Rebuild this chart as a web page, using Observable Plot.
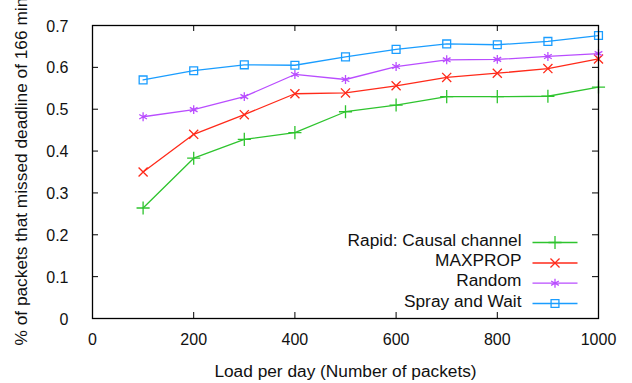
<!DOCTYPE html>
<html>
<head>
<meta charset="utf-8">
<script src="https://cdn.jsdelivr.net/npm/d3@7"></script>
<script src="https://cdn.jsdelivr.net/npm/@observablehq/plot@0.6"></script>
<style>
  html, body { margin: 0; padding: 0; background: #fff; }
  #chart svg { display: block; }
</style>
</head>
<body>
<div id="chart"></div>
<script>
// Load per day (packets) and the fraction of packets that missed the deadline
const loads = [100, 200, 300, 400, 500, 600, 700, 800, 900, 1000];
const rapid = [0.264, 0.383, 0.428, 0.444, 0.494, 0.510, 0.530, 0.530, 0.531, 0.553];
const maxprop = [0.350, 0.440, 0.487, 0.537, 0.539, 0.556, 0.576, 0.586, 0.597, 0.620];
const random = [0.482, 0.499, 0.530, 0.583, 0.571, 0.602, 0.618, 0.619, 0.626, 0.633];
const spray = [0.570, 0.592, 0.606, 0.605, 0.625, 0.643, 0.656, 0.654, 0.662, 0.676];

const seriesNames = ["Rapid: Causal channel", "MAXPROP", "Random", "Spray and Wait"];
const seriesValues = [rapid, maxprop, random, spray];
const seriesColors = ["#2ec42e", "#ff2a1a", "#b94dff", "#1a9dff"];
const seriesSymbols = ["plus", "times", "asterisk", "square2"];
const seriesRadius = [4.3, 4.2, 4.2, 5];

const xTicks = [0, 200, 400, 600, 800, 1000];
const yTicks = [0, 0.1, 0.2, 0.3, 0.4, 0.5, 0.6, 0.7];

const xTitle = "Load per day (Number of packets)";
const yTitle = "% of packets that missed deadline of 166 minutes";

const W = 632, H = 383;
const mL = 92, mR = 34, mT = 25, mB = 65;
const frameW = W - mL - mR, frameH = H - mT - mB;
const tickLen = 6;
const labelSize = 17.3;

// horizontal legend stroke, drawn as a custom dot symbol
const legendStroke = {
  draw(context) {
    context.moveTo(-22.5, 0);
    context.lineTo(22.5, 0);
  }
};
const legendRowDy = [-76, -55.5, -35.3, -15];

const seriesMarks = seriesNames.flatMap((name, i) => {
  const rows = loads.map((x, j) => ({load: x, value: seriesValues[i][j]}));
  return [
    Plot.line(rows, {x: "load", y: "value", stroke: seriesColors[i], strokeWidth: 1.3}),
    Plot.dot(rows, {x: "load", y: "value", symbol: seriesSymbols[i], r: seriesRadius[i],
      stroke: seriesColors[i], fill: "none", strokeWidth: 1.3})
  ];
});

const legendMarks = seriesNames.flatMap((name, i) => [
  Plot.text([name], {frameAnchor: "bottom-right", dx: -77, dy: legendRowDy[i] + 3,
    textAnchor: "end", fontSize: labelSize, fill: "#111"}),
  Plot.dot([name], {frameAnchor: "bottom-right", dx: -43.5, dy: legendRowDy[i],
    symbol: legendStroke, stroke: seriesColors[i], fill: "none", strokeWidth: 1.3}),
  Plot.dot([name], {frameAnchor: "bottom-right", dx: -43.5, dy: legendRowDy[i],
    symbol: seriesSymbols[i], r: seriesRadius[i], stroke: seriesColors[i], fill: "none", strokeWidth: 1.3})
]);

const chart = Plot.plot({
  width: W,
  height: H,
  marginLeft: mL,
  marginRight: mR,
  marginTop: mT,
  marginBottom: mB,
  style: {
    fontFamily: "'Liberation Sans', Arial, Helvetica, sans-serif",
    fontSize: "16px",
    color: "#111",
    background: "#fff"
  },
  x: {domain: [0, 1000]},
  y: {domain: [0, 0.7]},
  marks: [
    // tick labels
    Plot.axisX(xTicks, {anchor: "bottom", tickSize: 0, tickPadding: 15, fontSize: 16,
      tickFormat: d => String(d), label: null}),
    Plot.axisY(yTicks, {anchor: "left", tickSize: 0, tickPadding: 24, fontSize: 16, dy: 1,
      tickFormat: d => d === 0 ? "0" : d.toFixed(1), label: null}),
    // inward ticks on all four sides
    Plot.tickX(xTicks, {x: d => d, insetTop: frameH - tickLen, stroke: "#000"}),
    Plot.tickX(xTicks, {x: d => d, insetBottom: frameH - tickLen, stroke: "#000"}),
    Plot.tickY(yTicks, {y: d => d, insetRight: frameW - tickLen, stroke: "#000"}),
    Plot.tickY(yTicks, {y: d => d, insetLeft: frameW - tickLen, stroke: "#000"}),
    // axis titles
    Plot.text([xTitle], {frameAnchor: "bottom", dy: 58, fontSize: labelSize, fill: "#111"}),
    Plot.text([yTitle], {frameAnchor: "bottom-left", dx: -66, dy: 27, rotate: -90,
      textAnchor: "start", fontSize: labelSize, fill: "#111"}),
    ...seriesMarks,
    ...legendMarks,
    Plot.frame({stroke: "#000", strokeWidth: 1.3})
  ]
});

document.getElementById("chart").appendChild(chart);
</script>
</body>
</html>
